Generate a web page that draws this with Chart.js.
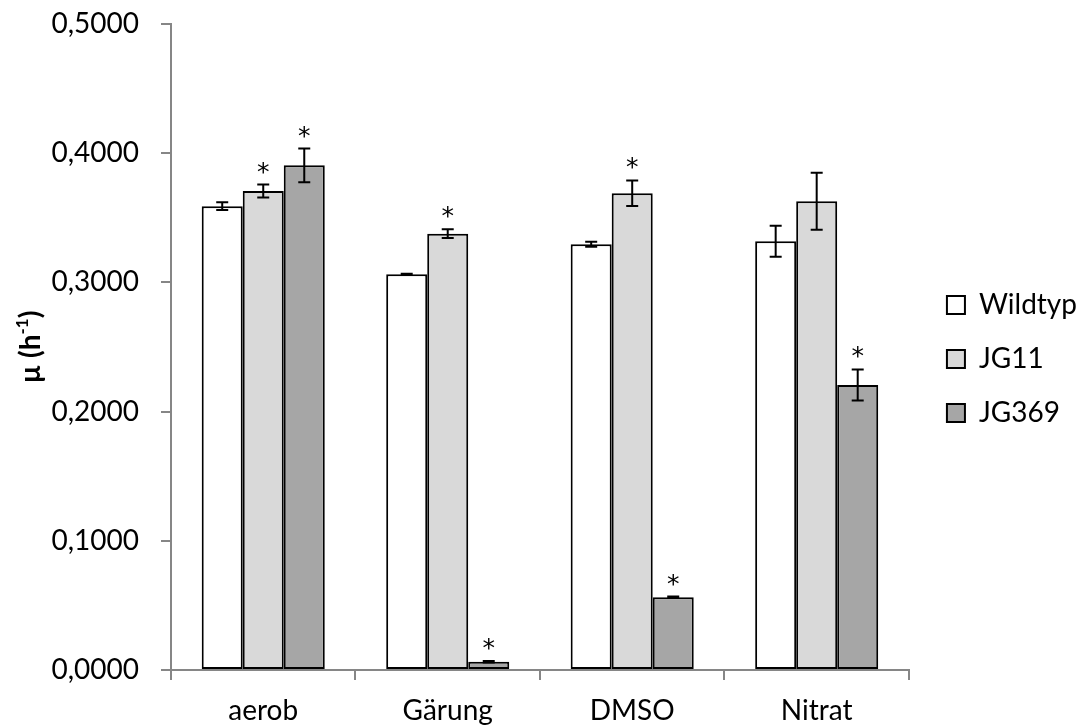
<!DOCTYPE html>
<html><head><meta charset="utf-8">
<script src="https://cdn.jsdelivr.net/npm/chart.js@4/dist/chart.umd.min.js"></script>
<style>html,body{margin:0;padding:0;background:#fff}#wrap{width:1079px;height:726px}</style>
</head><body><div id="wrap"><canvas id="c" width="1079" height="726"></canvas></div>
<script>
const categories = ['aerob', 'Gärung', 'DMSO', 'Nitrat'];
const seriesNames = ['Wildtyp', 'JG11', 'JG369'];
const wildtyp = [0.3590, 0.3063, 0.3295, 0.3318];
const jg11 = [0.3707, 0.3377, 0.3690, 0.3628];
const jg369 = [0.3906, 0.0064, 0.0563, 0.2206];
const errWildtyp = [0.0030, 0.0004, 0.0020, 0.0120];
const errJG11 = [0.0050, 0.0034, 0.0099, 0.0220];
const errJG369 = [0.0130, 0.0005, 0.0005, 0.0120];
const sigWildtyp = [false, false, false, false];
const sigJG11 = [true, true, true, false];
const sigJG369 = [true, true, true, true];
const yMin = 0, yMax = 0.5, yStep = 0.1;
const yTitle = ['µ (h', '-1', ')'];

const FONT = 'Lato';
const errors = [errWildtyp, errJG11, errJG369];
const sigs = [sigWildtyp, sigJG11, sigJG369];
const values = [wildtyp, jg11, jg369];
const fills = ['#ffffff', '#d9d9d9', '#a6a6a6'];

const errorBarPlugin = {
  id: 'errorBars',
  afterDatasetsDraw(chart) {
    const ctx = chart.ctx;
    const y = chart.scales.y;
    ctx.save();
    ctx.strokeStyle = '#000';
    ctx.lineWidth = 2;
    ctx.fillStyle = '#000';
    ctx.font = '25px "DejaVu Sans"';
    ctx.textAlign = 'center';
    chart.data.datasets.forEach((ds, di) => {
      const meta = chart.getDatasetMeta(di);
      meta.data.forEach((el, i) => {
        const v = ds.data[i], e = errors[di][i];
        const yt = y.getPixelForValue(v + e), yb = y.getPixelForValue(v - e);
        const x = el.x, cap = 6;
        ctx.beginPath();
        ctx.moveTo(x, yt); ctx.lineTo(x, yb);
        ctx.moveTo(x - cap, yt); ctx.lineTo(x + cap, yt);
        ctx.moveTo(x - cap, yb); ctx.lineTo(x + cap, yb);
        ctx.stroke();
        if (sigs[di][i]) {
          const m = ctx.measureText('*');
          const asc = m.actualBoundingBoxAscent, desc = m.actualBoundingBoxDescent;
          const cy = yt - 17;
          ctx.textBaseline = 'alphabetic';
          ctx.fillText('*', x, cy + (asc - desc) / 2);
        }
      });
    });
    ctx.restore();
  }
};

const yTitlePlugin = {
  id: 'yTitle',
  afterDraw(chart) {
    const ctx = chart.ctx;
    const a = chart.chartArea;
    const cx = 31, cy = (a.top + a.bottom) / 2;
    ctx.save();
    ctx.translate(cx, cy);
    ctx.rotate(-Math.PI / 2);
    ctx.fillStyle = '#000';
    ctx.textBaseline = 'middle';
    const big = 'bold 28px ' + FONT, small = 'bold 17px ' + FONT;
    ctx.font = big; const w1 = ctx.measureText(yTitle[0]).width, w3 = ctx.measureText(yTitle[2]).width;
    ctx.font = small; const w2 = ctx.measureText(yTitle[1]).width;
    let x = -(w1 + w2 + w3) / 2;
    ctx.textAlign = 'left';
    ctx.font = big; ctx.fillText(yTitle[0], x, 0); x += w1;
    ctx.font = small; ctx.fillText(yTitle[1], x, -8); x += w2;
    ctx.font = big; ctx.fillText(yTitle[2], x, 0);
    ctx.restore();
  }
};

const legendShift = {
  id: 'legendShift',
  afterLayout(chart) {
    if (chart.legend) {
      chart.legend.left += 12; chart.legend.right += 12;
      chart.legend.top -= 16; chart.legend.bottom -= 16;
    }
  }
};

new Chart(document.getElementById('c'), {
  type: 'bar',
  data: {
    labels: categories,
    datasets: seriesNames.map((n, i) => ({
      label: n,
      data: values[i],
      backgroundColor: fills[i],
      borderColor: '#000',
      borderWidth: 2,
      borderSkipped: false,
      categoryPercentage: 0.667,
      barPercentage: 1.0
    }))
  },
  options: {
    responsive: false,
    animation: false,
    devicePixelRatio: 1,
    layout: { padding: { top: 24, right: 4, left: 0, bottom: 0 } },
    plugins: {
      tooltip: { enabled: false },
      legend: {
        position: 'right',
        labels: {
          boxWidth: 18, boxHeight: 18, padding: 26, color: '#000',
          font: { family: FONT, size: 28 }
        }
      }
    },
    scales: {
      x: {
        grid: { display: true, drawOnChartArea: false, drawTicks: true, tickLength: 10, color: '#868686', lineWidth: 2, offset: true },
        border: { color: '#868686', width: 2 },
        ticks: { color: '#000', font: { family: FONT, size: 28 }, padding: 14 },
        afterFit(s) { s.height = 56; s.paddingLeft = 0; s.paddingRight = 0; }
      },
      y: {
        min: yMin, max: yMax,
        ticks: {
          stepSize: yStep, color: '#000', font: { family: FONT, size: 28 }, padding: 22,
          callback: v => Number(v).toFixed(4).replace('.', ',')
        },
        grid: { display: true, drawOnChartArea: false, tickLength: 10, color: '#868686', lineWidth: 2 },
        border: { color: '#868686', width: 2 },
        afterFit(s) { s.width = 171; s.paddingTop = 0; s.paddingBottom = 0; }
      }
    }
  },
  plugins: [errorBarPlugin, yTitlePlugin, legendShift]
});
</script>
</body></html>
